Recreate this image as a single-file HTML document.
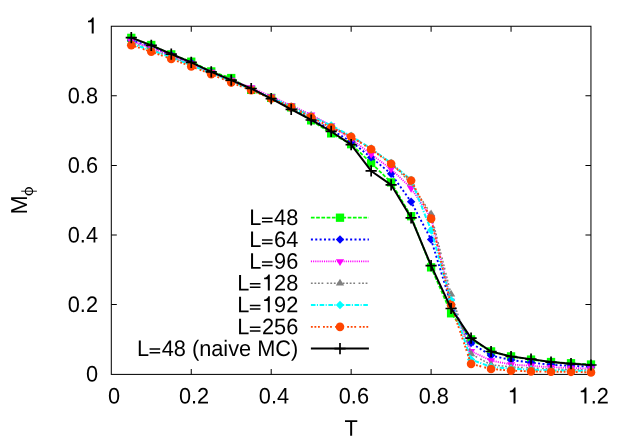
<!DOCTYPE html>
<html><head><meta charset="utf-8"><title>M_phi vs T</title>
<style>
html,body{margin:0;padding:0;background:#fff;}
body{width:628px;height:440px;overflow:hidden;}
svg{display:block;will-change:transform;}
text{font-family:"Liberation Sans",sans-serif;font-size:22.4px;fill:#000;}
</style></head><body>
<svg width="628" height="440" viewBox="0 0 628 440">
<rect width="628" height="440" fill="#fff"/>
<g stroke="#000" stroke-width="1.02" fill="none">
<rect x="111.3" y="26.25" width="479.65" height="348.15"/>
<path d="M191.25 374.4V368.9M191.25 26.25V31.75"/>
<path d="M271.20 374.4V368.9M271.20 26.25V31.75"/>
<path d="M351.15 374.4V368.9M351.15 26.25V31.75"/>
<path d="M431.10 374.4V368.9M431.10 26.25V31.75"/>
<path d="M511.05 374.4V368.9M511.05 26.25V31.75"/>
<path d="M111.3 304.60H116.8M590.95 304.60H585.45"/>
<path d="M111.3 235.00H116.8M590.95 235.00H585.45"/>
<path d="M111.3 165.40H116.8M590.95 165.40H585.45"/>
<path d="M111.3 95.80H116.8M590.95 95.80H585.45"/>
</g>
<text transform="translate(108.00 403.60) rotate(0.03) scale(0.971 1)">0</text>
<text transform="translate(178.88 403.60) rotate(0.03) scale(0.971 1)">0.2</text>
<text transform="translate(258.83 403.60) rotate(0.03) scale(0.971 1)">0.4</text>
<text transform="translate(338.78 403.60) rotate(0.03) scale(0.971 1)">0.6</text>
<text transform="translate(418.73 403.60) rotate(0.03) scale(0.971 1)">0.8</text>
<path transform="translate(507.75 403.60)" fill="#000" d="M7.8 -16.05V0H5.8V-11.25H2.1V-12.85Q5.35 -13.0 6.35 -16.05Z"/>
<path transform="translate(578.63 403.60)" fill="#000" d="M7.8 -16.05V0H5.8V-11.25H2.1V-12.85Q5.35 -13.0 6.35 -16.05Z"/>
<text transform="translate(590.73 403.60) rotate(0.03) scale(0.971 1)">.2</text>
<text transform="translate(85.90 381.60) rotate(0.03) scale(0.971 1)">0</text>
<text transform="translate(67.76 312.00) rotate(0.03) scale(0.971 1)">0.2</text>
<text transform="translate(67.76 242.40) rotate(0.03) scale(0.971 1)">0.4</text>
<text transform="translate(67.76 172.80) rotate(0.03) scale(0.971 1)">0.6</text>
<text transform="translate(67.76 103.20) rotate(0.03) scale(0.971 1)">0.8</text>
<path transform="translate(85.90 33.60)" fill="#000" d="M7.8 -16.05V0H5.8V-11.25H2.1V-12.85Q5.35 -13.0 6.35 -16.05Z"/>
<text transform="translate(344.46 435.80) rotate(0.03) scale(0.971 1)">T</text>
<text transform="translate(27.1 214.4) rotate(-90.03)" style="font-size:23.1px">M</text>
<g stroke="#000" fill="none" stroke-width="1.2"><path fill="#000" stroke="none" fill-rule="evenodd" d="M24.75 191.2a4.2 4.25 0 1 0 8.4 0a4.2 4.25 0 1 0 -8.4 0ZM25.85 191.2a3.1 2.75 0 1 0 6.2 0a3.1 2.75 0 1 0 -6.2 0Z"/><path d="M21.2 191.2H36.9" stroke-width="0.9"/></g>
<polyline points="131.29,37.86 151.28,44.99 171.26,54.39 191.25,61.70 211.24,71.44 231.23,78.05 251.21,89.88 271.20,97.89 291.19,107.35 311.18,120.33 331.16,133.38 351.15,144.17 371.14,162.96 391.13,182.38 411.11,216.21 431.10,267.36 451.09,313.30 471.08,339.40 491.06,351.41 511.05,356.38 531.04,359.58 551.03,362.02 571.01,363.24 591.00,364.53" fill="none" stroke="#00ff00" stroke-width="1.8" stroke-dasharray="3.7,1.55" stroke-linejoin="round"/>
<rect x="127.14" y="33.71" width="8.30" height="8.30" fill="#00ff00"/>
<rect x="147.12" y="40.84" width="8.30" height="8.30" fill="#00ff00"/>
<rect x="167.11" y="50.24" width="8.30" height="8.30" fill="#00ff00"/>
<rect x="187.10" y="57.55" width="8.30" height="8.30" fill="#00ff00"/>
<rect x="207.09" y="67.29" width="8.30" height="8.30" fill="#00ff00"/>
<rect x="227.08" y="73.90" width="8.30" height="8.30" fill="#00ff00"/>
<rect x="247.06" y="85.73" width="8.30" height="8.30" fill="#00ff00"/>
<rect x="267.05" y="93.74" width="8.30" height="8.30" fill="#00ff00"/>
<rect x="287.04" y="103.20" width="8.30" height="8.30" fill="#00ff00"/>
<rect x="307.03" y="116.18" width="8.30" height="8.30" fill="#00ff00"/>
<rect x="327.01" y="129.23" width="8.30" height="8.30" fill="#00ff00"/>
<rect x="347.00" y="140.02" width="8.30" height="8.30" fill="#00ff00"/>
<rect x="366.99" y="158.81" width="8.30" height="8.30" fill="#00ff00"/>
<rect x="386.98" y="178.23" width="8.30" height="8.30" fill="#00ff00"/>
<rect x="406.96" y="212.06" width="8.30" height="8.30" fill="#00ff00"/>
<rect x="426.95" y="263.21" width="8.30" height="8.30" fill="#00ff00"/>
<rect x="446.94" y="309.15" width="8.30" height="8.30" fill="#00ff00"/>
<rect x="466.93" y="335.25" width="8.30" height="8.30" fill="#00ff00"/>
<rect x="486.91" y="347.26" width="8.30" height="8.30" fill="#00ff00"/>
<rect x="506.90" y="352.23" width="8.30" height="8.30" fill="#00ff00"/>
<rect x="526.89" y="355.43" width="8.30" height="8.30" fill="#00ff00"/>
<rect x="546.88" y="357.87" width="8.30" height="8.30" fill="#00ff00"/>
<rect x="566.86" y="359.09" width="8.30" height="8.30" fill="#00ff00"/>
<rect x="586.85" y="360.38" width="8.30" height="8.30" fill="#00ff00"/>
<path d="M310.9 217.7H368.9" fill="none" stroke="#00ff00" stroke-width="1.8" stroke-dasharray="3.7,1.55"/>
<rect x="335.85" y="213.55" width="8.30" height="8.30" fill="#00ff00"/>
<polyline points="131.29,40.29 151.28,46.73 171.26,55.08 191.25,62.74 211.24,72.14 231.23,80.14 251.21,88.84 271.20,98.24 291.19,108.33 311.18,118.77 331.16,129.56 351.15,141.74 371.14,157.40 391.13,173.75 411.11,201.80 431.10,239.52 451.09,304.60 471.08,343.09 491.06,355.58 511.05,360.00 531.04,362.58 551.03,364.80 571.01,365.85 591.00,366.72" fill="none" stroke="#0000ff" stroke-width="1.9" stroke-dasharray="2.0,2.36" stroke-linejoin="round"/>
<path d="M127.09 40.29L131.29 36.09L135.49 40.29L131.29 44.49Z" fill="#0000ff"/>
<path d="M147.08 46.73L151.28 42.53L155.47 46.73L151.28 50.93Z" fill="#0000ff"/>
<path d="M167.06 55.08L171.26 50.88L175.46 55.08L171.26 59.28Z" fill="#0000ff"/>
<path d="M187.05 62.74L191.25 58.54L195.45 62.74L191.25 66.94Z" fill="#0000ff"/>
<path d="M207.04 72.14L211.24 67.94L215.44 72.14L211.24 76.34Z" fill="#0000ff"/>
<path d="M227.03 80.14L231.23 75.94L235.43 80.14L231.23 84.34Z" fill="#0000ff"/>
<path d="M247.01 88.84L251.21 84.64L255.41 88.84L251.21 93.04Z" fill="#0000ff"/>
<path d="M267.00 98.24L271.20 94.04L275.40 98.24L271.20 102.44Z" fill="#0000ff"/>
<path d="M286.99 108.33L291.19 104.13L295.39 108.33L291.19 112.53Z" fill="#0000ff"/>
<path d="M306.98 118.77L311.18 114.57L315.38 118.77L311.18 122.97Z" fill="#0000ff"/>
<path d="M326.96 129.56L331.16 125.36L335.36 129.56L331.16 133.76Z" fill="#0000ff"/>
<path d="M346.95 141.74L351.15 137.54L355.35 141.74L351.15 145.94Z" fill="#0000ff"/>
<path d="M366.94 157.40L371.14 153.20L375.34 157.40L371.14 161.60Z" fill="#0000ff"/>
<path d="M386.93 173.75L391.13 169.55L395.33 173.75L391.13 177.95Z" fill="#0000ff"/>
<path d="M406.91 201.80L411.11 197.60L415.31 201.80L411.11 206.00Z" fill="#0000ff"/>
<path d="M426.90 239.52L431.10 235.32L435.30 239.52L431.10 243.72Z" fill="#0000ff"/>
<path d="M446.89 304.60L451.09 300.40L455.29 304.60L451.09 308.80Z" fill="#0000ff"/>
<path d="M466.88 343.09L471.08 338.89L475.28 343.09L471.08 347.29Z" fill="#0000ff"/>
<path d="M486.86 355.58L491.06 351.38L495.26 355.58L491.06 359.78Z" fill="#0000ff"/>
<path d="M506.85 360.00L511.05 355.80L515.25 360.00L511.05 364.20Z" fill="#0000ff"/>
<path d="M526.84 362.58L531.04 358.38L535.24 362.58L531.04 366.78Z" fill="#0000ff"/>
<path d="M546.83 364.80L551.03 360.60L555.23 364.80L551.03 369.00Z" fill="#0000ff"/>
<path d="M566.81 365.85L571.01 361.65L575.21 365.85L571.01 370.05Z" fill="#0000ff"/>
<path d="M586.80 366.72L591.00 362.52L595.20 366.72L591.00 370.92Z" fill="#0000ff"/>
<path d="M310.9 239.55H368.9" fill="none" stroke="#0000ff" stroke-width="1.9" stroke-dasharray="2.0,2.36"/>
<path d="M335.80 239.55L340.00 235.35L344.20 239.55L340.00 243.75Z" fill="#0000ff"/>
<polyline points="131.29,41.16 151.28,47.78 171.26,55.78 191.25,63.78 211.24,72.14 231.23,80.14 251.21,87.62 271.20,96.50 291.19,105.54 311.18,114.77 331.16,125.55 351.15,138.95 371.14,154.26 391.13,169.05 411.11,188.12 431.10,217.95 451.09,301.12 471.08,351.23 491.06,360.63 511.05,364.46 531.04,365.85 551.03,367.24 571.01,367.94 591.00,368.63" fill="none" stroke="#ff00ff" stroke-width="1.8" stroke-dasharray="1.1,1.08" stroke-linejoin="round"/>
<path d="M127.14 38.90L135.44 38.90L131.29 45.70Z" fill="#ff00ff"/>
<path d="M147.12 45.51L155.43 45.51L151.28 52.31Z" fill="#ff00ff"/>
<path d="M167.11 53.51L175.41 53.51L171.26 60.31Z" fill="#ff00ff"/>
<path d="M187.10 61.52L195.40 61.52L191.25 68.32Z" fill="#ff00ff"/>
<path d="M207.09 69.87L215.39 69.87L211.24 76.67Z" fill="#ff00ff"/>
<path d="M227.08 77.87L235.38 77.87L231.23 84.67Z" fill="#ff00ff"/>
<path d="M247.06 85.36L255.36 85.36L251.21 92.16Z" fill="#ff00ff"/>
<path d="M267.05 94.23L275.35 94.23L271.20 101.03Z" fill="#ff00ff"/>
<path d="M287.04 103.28L295.34 103.28L291.19 110.08Z" fill="#ff00ff"/>
<path d="M307.03 112.50L315.32 112.50L311.18 119.30Z" fill="#ff00ff"/>
<path d="M327.01 123.29L335.31 123.29L331.16 130.09Z" fill="#ff00ff"/>
<path d="M347.00 136.69L355.30 136.69L351.15 143.49Z" fill="#ff00ff"/>
<path d="M366.99 152.00L375.29 152.00L371.14 158.80Z" fill="#ff00ff"/>
<path d="M386.98 166.79L395.28 166.79L391.13 173.59Z" fill="#ff00ff"/>
<path d="M406.96 185.86L415.26 185.86L411.11 192.66Z" fill="#ff00ff"/>
<path d="M426.95 215.68L435.25 215.68L431.10 222.48Z" fill="#ff00ff"/>
<path d="M446.94 298.85L455.24 298.85L451.09 305.65Z" fill="#ff00ff"/>
<path d="M466.93 348.97L475.23 348.97L471.08 355.77Z" fill="#ff00ff"/>
<path d="M486.91 358.36L495.21 358.36L491.06 365.16Z" fill="#ff00ff"/>
<path d="M506.90 362.19L515.20 362.19L511.05 368.99Z" fill="#ff00ff"/>
<path d="M526.89 363.58L535.19 363.58L531.04 370.38Z" fill="#ff00ff"/>
<path d="M546.88 364.97L555.18 364.97L551.03 371.77Z" fill="#ff00ff"/>
<path d="M566.86 365.67L575.16 365.67L571.01 372.47Z" fill="#ff00ff"/>
<path d="M586.85 366.37L595.15 366.37L591.00 373.17Z" fill="#ff00ff"/>
<path d="M310.9 261.4H368.9" fill="none" stroke="#ff00ff" stroke-width="1.8" stroke-dasharray="1.1,1.08"/>
<path d="M335.85 259.13L344.15 259.13L340.00 265.93Z" fill="#ff00ff"/>
<polyline points="131.29,42.56 151.28,49.17 171.26,56.82 191.25,64.48 211.24,72.83 231.23,80.84 251.21,89.19 271.20,97.89 291.19,106.69 311.18,115.29 331.16,126.42 351.15,136.34 371.14,148.70 391.13,163.31 411.11,183.36 431.10,214.12 451.09,294.16 471.08,354.02 491.06,364.80 511.05,366.89 531.04,367.94 551.03,368.98 571.01,369.68 591.00,370.02" fill="none" stroke="#808080" stroke-width="1.5" stroke-dasharray="1.8,1.73,1.8,1.73,1.8,1.73,1.8,3.5" stroke-linejoin="round"/>
<path d="M127.14 44.81L135.44 44.81L131.29 38.06Z" fill="#808080"/>
<path d="M147.12 51.42L155.43 51.42L151.28 44.67Z" fill="#808080"/>
<path d="M167.11 59.07L175.41 59.07L171.26 52.32Z" fill="#808080"/>
<path d="M187.10 66.73L195.40 66.73L191.25 59.98Z" fill="#808080"/>
<path d="M207.09 75.08L215.39 75.08L211.24 68.33Z" fill="#808080"/>
<path d="M227.08 83.09L235.38 83.09L231.23 76.34Z" fill="#808080"/>
<path d="M247.06 91.44L255.36 91.44L251.21 84.69Z" fill="#808080"/>
<path d="M267.05 100.14L275.35 100.14L271.20 93.39Z" fill="#808080"/>
<path d="M287.04 108.94L295.34 108.94L291.19 102.19Z" fill="#808080"/>
<path d="M307.03 117.54L315.32 117.54L311.18 110.79Z" fill="#808080"/>
<path d="M327.01 128.67L335.31 128.67L331.16 121.92Z" fill="#808080"/>
<path d="M347.00 138.59L355.30 138.59L351.15 131.84Z" fill="#808080"/>
<path d="M366.99 150.95L375.29 150.95L371.14 144.20Z" fill="#808080"/>
<path d="M386.98 165.56L395.28 165.56L391.13 158.81Z" fill="#808080"/>
<path d="M406.96 185.61L415.26 185.61L411.11 178.86Z" fill="#808080"/>
<path d="M426.95 216.37L435.25 216.37L431.10 209.62Z" fill="#808080"/>
<path d="M446.94 296.41L455.24 296.41L451.09 289.66Z" fill="#808080"/>
<path d="M466.93 356.27L475.23 356.27L471.08 349.52Z" fill="#808080"/>
<path d="M486.91 367.05L495.21 367.05L491.06 360.30Z" fill="#808080"/>
<path d="M506.90 369.14L515.20 369.14L511.05 362.39Z" fill="#808080"/>
<path d="M526.89 370.19L535.19 370.19L531.04 363.44Z" fill="#808080"/>
<path d="M546.88 371.23L555.18 371.23L551.03 364.48Z" fill="#808080"/>
<path d="M566.86 371.93L575.16 371.93L571.01 365.18Z" fill="#808080"/>
<path d="M586.85 372.27L595.15 372.27L591.00 365.52Z" fill="#808080"/>
<path d="M310.9 283.2H368.9" fill="none" stroke="#808080" stroke-width="1.5" stroke-dasharray="1.8,1.73,1.8,1.73,1.8,1.73,1.8,3.5"/>
<path d="M335.85 285.45L344.15 285.45L340.00 278.70Z" fill="#808080"/>
<polyline points="131.29,43.95 151.28,50.21 171.26,57.52 191.25,65.18 211.24,73.18 231.23,81.18 251.21,89.54 271.20,97.71 291.19,106.59 311.18,116.51 331.16,125.52 351.15,136.06 371.14,148.59 391.13,163.14 411.11,180.02 431.10,230.13 451.09,300.22 471.08,359.58 491.06,366.89 511.05,368.63 531.04,369.68 551.03,370.37 571.01,370.72 591.00,371.07" fill="none" stroke="#00ffff" stroke-width="2.0" stroke-dasharray="4.6,1.4,1.1,1.63" stroke-linejoin="round"/>
<path d="M127.09 43.95L131.29 39.75L135.49 43.95L131.29 48.15Z" fill="#00ffff"/>
<path d="M147.08 50.21L151.28 46.01L155.47 50.21L151.28 54.41Z" fill="#00ffff"/>
<path d="M167.06 57.52L171.26 53.32L175.46 57.52L171.26 61.72Z" fill="#00ffff"/>
<path d="M187.05 65.18L191.25 60.98L195.45 65.18L191.25 69.38Z" fill="#00ffff"/>
<path d="M207.04 73.18L211.24 68.98L215.44 73.18L211.24 77.38Z" fill="#00ffff"/>
<path d="M227.03 81.18L231.23 76.98L235.43 81.18L231.23 85.38Z" fill="#00ffff"/>
<path d="M247.01 89.54L251.21 85.34L255.41 89.54L251.21 93.74Z" fill="#00ffff"/>
<path d="M267.00 97.71L271.20 93.51L275.40 97.71L271.20 101.91Z" fill="#00ffff"/>
<path d="M286.99 106.59L291.19 102.39L295.39 106.59L291.19 110.79Z" fill="#00ffff"/>
<path d="M306.98 116.51L311.18 112.31L315.38 116.51L311.18 120.71Z" fill="#00ffff"/>
<path d="M326.96 125.52L331.16 121.32L335.36 125.52L331.16 129.72Z" fill="#00ffff"/>
<path d="M346.95 136.06L351.15 131.86L355.35 136.06L351.15 140.26Z" fill="#00ffff"/>
<path d="M366.94 148.59L371.14 144.39L375.34 148.59L371.14 152.79Z" fill="#00ffff"/>
<path d="M386.93 163.14L391.13 158.94L395.33 163.14L391.13 167.34Z" fill="#00ffff"/>
<path d="M406.91 180.02L411.11 175.82L415.31 180.02L411.11 184.22Z" fill="#00ffff"/>
<path d="M426.90 230.13L431.10 225.93L435.30 230.13L431.10 234.33Z" fill="#00ffff"/>
<path d="M446.89 300.22L451.09 296.02L455.29 300.22L451.09 304.42Z" fill="#00ffff"/>
<path d="M466.88 359.58L471.08 355.38L475.28 359.58L471.08 363.78Z" fill="#00ffff"/>
<path d="M486.86 366.89L491.06 362.69L495.26 366.89L491.06 371.09Z" fill="#00ffff"/>
<path d="M506.85 368.63L511.05 364.43L515.25 368.63L511.05 372.83Z" fill="#00ffff"/>
<path d="M526.84 369.68L531.04 365.48L535.24 369.68L531.04 373.88Z" fill="#00ffff"/>
<path d="M546.83 370.37L551.03 366.17L555.23 370.37L551.03 374.57Z" fill="#00ffff"/>
<path d="M566.81 370.72L571.01 366.52L575.21 370.72L571.01 374.92Z" fill="#00ffff"/>
<path d="M586.80 371.07L591.00 366.87L595.20 371.07L591.00 375.27Z" fill="#00ffff"/>
<path d="M310.9 305.0H368.9" fill="none" stroke="#00ffff" stroke-width="2.0" stroke-dasharray="4.6,1.4,1.1,1.63"/>
<path d="M335.80 305.00L340.00 300.80L344.20 305.00L340.00 309.20Z" fill="#00ffff"/>
<polyline points="131.29,45.17 151.28,51.78 171.26,58.91 191.25,66.39 211.24,74.22 231.23,82.58 251.21,90.23 271.20,98.58 291.19,107.11 311.18,117.03 331.16,127.64 351.15,136.76 371.14,149.29 391.13,163.83 411.11,180.50 431.10,218.64 451.09,304.95 471.08,363.86 491.06,368.98 511.05,370.62 531.04,371.42 551.03,371.76 571.01,371.83 591.00,372.39" fill="none" stroke="#ff4500" stroke-width="1.9" stroke-dasharray="1.85,1.68,1.85,1.68,1.85,3.19" stroke-linejoin="round"/>
<circle cx="131.29" cy="45.17" r="4.3" fill="#ff4500"/>
<circle cx="151.28" cy="51.78" r="4.3" fill="#ff4500"/>
<circle cx="171.26" cy="58.91" r="4.3" fill="#ff4500"/>
<circle cx="191.25" cy="66.39" r="4.3" fill="#ff4500"/>
<circle cx="211.24" cy="74.22" r="4.3" fill="#ff4500"/>
<circle cx="231.23" cy="82.58" r="4.3" fill="#ff4500"/>
<circle cx="251.21" cy="90.23" r="4.3" fill="#ff4500"/>
<circle cx="271.20" cy="98.58" r="4.3" fill="#ff4500"/>
<circle cx="291.19" cy="107.11" r="4.3" fill="#ff4500"/>
<circle cx="311.18" cy="117.03" r="4.3" fill="#ff4500"/>
<circle cx="331.16" cy="127.64" r="4.3" fill="#ff4500"/>
<circle cx="351.15" cy="136.76" r="4.3" fill="#ff4500"/>
<circle cx="371.14" cy="149.29" r="4.3" fill="#ff4500"/>
<circle cx="391.13" cy="163.83" r="4.3" fill="#ff4500"/>
<circle cx="411.11" cy="180.50" r="4.3" fill="#ff4500"/>
<circle cx="431.10" cy="218.64" r="4.3" fill="#ff4500"/>
<circle cx="451.09" cy="304.95" r="4.3" fill="#ff4500"/>
<circle cx="471.08" cy="363.86" r="4.3" fill="#ff4500"/>
<circle cx="491.06" cy="368.98" r="4.3" fill="#ff4500"/>
<circle cx="511.05" cy="370.62" r="4.3" fill="#ff4500"/>
<circle cx="531.04" cy="371.42" r="4.3" fill="#ff4500"/>
<circle cx="551.03" cy="371.76" r="4.3" fill="#ff4500"/>
<circle cx="571.01" cy="371.83" r="4.3" fill="#ff4500"/>
<circle cx="591.00" cy="372.39" r="4.3" fill="#ff4500"/>
<path d="M310.9 326.85H368.9" fill="none" stroke="#ff4500" stroke-width="1.9" stroke-dasharray="1.85,1.68,1.85,1.68,1.85,3.19"/>
<circle cx="340.00" cy="326.85" r="4.3" fill="#ff4500"/>
<polyline points="131.29,37.68 151.28,45.34 171.26,54.04 191.25,62.39 211.24,71.79 231.23,80.14 251.21,88.49 271.20,98.72 291.19,109.37 311.18,119.99 331.16,131.47 351.15,144.66 371.14,170.97 391.13,184.82 411.11,217.81 431.10,265.69 451.09,308.50 471.08,338.11 491.06,351.51 511.05,356.49 531.04,359.13 551.03,362.09 571.01,363.69 591.00,364.98" fill="none" stroke="#000000" stroke-width="2.0" stroke-linejoin="round"/>
<path d="M125.69 37.68H136.89M131.29 32.08V43.28" stroke="#000000" stroke-width="1.7" fill="none"/>
<path d="M145.68 45.34H156.88M151.28 39.74V50.94" stroke="#000000" stroke-width="1.7" fill="none"/>
<path d="M165.66 54.04H176.86M171.26 48.44V59.64" stroke="#000000" stroke-width="1.7" fill="none"/>
<path d="M185.65 62.39H196.85M191.25 56.79V67.99" stroke="#000000" stroke-width="1.7" fill="none"/>
<path d="M205.64 71.79H216.84M211.24 66.19V77.39" stroke="#000000" stroke-width="1.7" fill="none"/>
<path d="M225.63 80.14H236.83M231.23 74.54V85.74" stroke="#000000" stroke-width="1.7" fill="none"/>
<path d="M245.61 88.49H256.81M251.21 82.89V94.09" stroke="#000000" stroke-width="1.7" fill="none"/>
<path d="M265.60 98.72H276.80M271.20 93.12V104.32" stroke="#000000" stroke-width="1.7" fill="none"/>
<path d="M285.59 109.37H296.79M291.19 103.77V114.97" stroke="#000000" stroke-width="1.7" fill="none"/>
<path d="M305.57 119.99H316.78M311.18 114.39V125.59" stroke="#000000" stroke-width="1.7" fill="none"/>
<path d="M325.56 131.47H336.76M331.16 125.87V137.07" stroke="#000000" stroke-width="1.7" fill="none"/>
<path d="M345.55 144.66H356.75M351.15 139.06V150.26" stroke="#000000" stroke-width="1.7" fill="none"/>
<path d="M365.54 170.97H376.74M371.14 165.37V176.57" stroke="#000000" stroke-width="1.7" fill="none"/>
<path d="M385.53 184.82H396.73M391.13 179.22V190.42" stroke="#000000" stroke-width="1.7" fill="none"/>
<path d="M405.51 217.81H416.71M411.11 212.21V223.41" stroke="#000000" stroke-width="1.7" fill="none"/>
<path d="M425.50 265.69H436.70M431.10 260.09V271.29" stroke="#000000" stroke-width="1.7" fill="none"/>
<path d="M445.49 308.50H456.69M451.09 302.90V314.10" stroke="#000000" stroke-width="1.7" fill="none"/>
<path d="M465.48 338.11H476.68M471.08 332.51V343.71" stroke="#000000" stroke-width="1.7" fill="none"/>
<path d="M485.46 351.51H496.66M491.06 345.91V357.11" stroke="#000000" stroke-width="1.7" fill="none"/>
<path d="M505.45 356.49H516.65M511.05 350.89V362.09" stroke="#000000" stroke-width="1.7" fill="none"/>
<path d="M525.44 359.13H536.64M531.04 353.53V364.73" stroke="#000000" stroke-width="1.7" fill="none"/>
<path d="M545.43 362.09H556.63M551.03 356.49V367.69" stroke="#000000" stroke-width="1.7" fill="none"/>
<path d="M565.41 363.69H576.61M571.01 358.09V369.29" stroke="#000000" stroke-width="1.7" fill="none"/>
<path d="M585.40 364.98H596.60M591.00 359.38V370.58" stroke="#000000" stroke-width="1.7" fill="none"/>
<path d="M310.9 348.6H368.9" fill="none" stroke="#000000" stroke-width="2.0"/>
<path d="M334.40 348.60H345.60M340.00 343.00V354.20" stroke="#000000" stroke-width="1.7" fill="none"/>
<text transform="translate(249.31 225.05) rotate(0.03) scale(0.971 1)">L</text>
<path d="M261.96 218.20H272.56M261.96 221.75H272.56" stroke="#000" stroke-width="1.5" fill="none"/>
<text transform="translate(274.11 225.05) rotate(0.03) scale(0.971 1)">48</text>
<text transform="translate(249.31 246.90) rotate(0.03) scale(0.971 1)">L</text>
<path d="M261.96 240.05H272.56M261.96 243.60H272.56" stroke="#000" stroke-width="1.5" fill="none"/>
<text transform="translate(274.11 246.90) rotate(0.03) scale(0.971 1)">64</text>
<text transform="translate(249.31 268.75) rotate(0.03) scale(0.971 1)">L</text>
<path d="M261.96 261.90H272.56M261.96 265.45H272.56" stroke="#000" stroke-width="1.5" fill="none"/>
<text transform="translate(274.11 268.75) rotate(0.03) scale(0.971 1)">96</text>
<text transform="translate(237.21 290.55) rotate(0.03) scale(0.971 1)">L</text>
<path d="M249.86 283.70H260.46M249.86 287.25H260.46" stroke="#000" stroke-width="1.5" fill="none"/>
<path transform="translate(262.01 290.55)" fill="#000" d="M7.8 -16.05V0H5.8V-11.25H2.1V-12.85Q5.35 -13.0 6.35 -16.05Z"/>
<text transform="translate(274.11 290.55) rotate(0.03) scale(0.971 1)">28</text>
<text transform="translate(237.21 312.35) rotate(0.03) scale(0.971 1)">L</text>
<path d="M249.86 305.50H260.46M249.86 309.05H260.46" stroke="#000" stroke-width="1.5" fill="none"/>
<path transform="translate(262.01 312.35)" fill="#000" d="M7.8 -16.05V0H5.8V-11.25H2.1V-12.85Q5.35 -13.0 6.35 -16.05Z"/>
<text transform="translate(274.11 312.35) rotate(0.03) scale(0.971 1)">92</text>
<text transform="translate(237.21 334.20) rotate(0.03) scale(0.971 1)">L</text>
<path d="M249.86 327.35H260.46M249.86 330.90H260.46" stroke="#000" stroke-width="1.5" fill="none"/>
<text transform="translate(262.01 334.20) rotate(0.03) scale(0.971 1)">256</text>
<text transform="translate(136.91 355.95) rotate(0.03) scale(0.971 1)">L</text>
<path d="M149.56 349.10H160.16M149.56 352.65H160.16" stroke="#000" stroke-width="1.5" fill="none"/>
<text transform="translate(161.71 355.95) rotate(0.03) scale(0.971 1)">48 (naive MC)</text>
</svg>
</body></html>
